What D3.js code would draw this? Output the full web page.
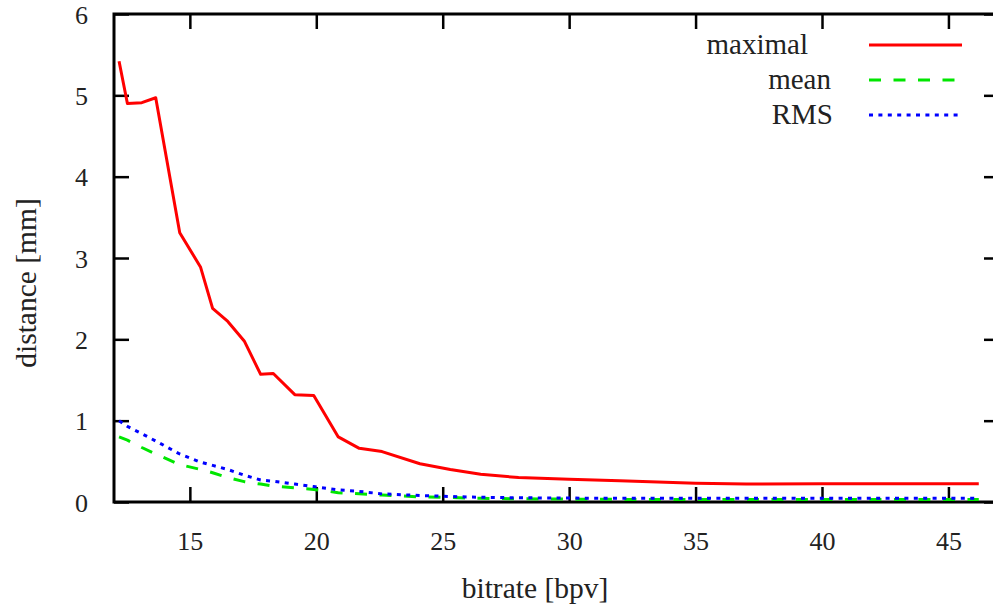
<!DOCTYPE html>
<html>
<head>
<meta charset="utf-8">
<script src="https://cdn.jsdelivr.net/npm/d3@7"></script>
<style>
  html, body { margin: 0; padding: 0; background: #fff; }
  svg { display: block; }
  text { font-family: "Liberation Serif", "DejaVu Serif", serif; fill: #222; }
</style>
</head>
<body>
<svg id="chart" width="993" height="608"></svg>
<script>
const bitrate = [12.2, 12.53, 13.1, 13.65, 14.6, 15.42, 15.9, 16.5, 17.15, 17.8, 18.3, 19.15, 19.9, 20.87, 21.7, 22.6, 24.1, 25.3, 26.5, 28, 30, 32, 35, 37, 40, 43, 46.2];
const maximal = [5.42, 4.90, 4.91, 4.97, 3.31, 2.89, 2.38, 2.22, 1.98, 1.57, 1.58, 1.32, 1.31, 0.80, 0.66, 0.62, 0.47, 0.40, 0.34, 0.30, 0.28, 0.26, 0.23, 0.22, 0.225, 0.225, 0.225];
const mean    = [0.80, 0.76, 0.67, 0.59, 0.46, 0.40, 0.36, 0.30, 0.25, 0.22, 0.195, 0.175, 0.155, 0.115, 0.10, 0.085, 0.063, 0.055, 0.045, 0.040, 0.035, 0.032, 0.030, 0.030, 0.030, 0.030, 0.030];
const rms     = [1.00, 0.93, 0.84, 0.75, 0.59, 0.49, 0.45, 0.40, 0.33, 0.27, 0.255, 0.22, 0.19, 0.15, 0.13, 0.10, 0.08, 0.068, 0.058, 0.052, 0.048, 0.046, 0.045, 0.045, 0.045, 0.045, 0.045];
const xTicks = [15, 20, 25, 30, 35, 40, 45];
const yTicks = [0, 1, 2, 3, 4, 5, 6];
const seriesNames = ["maximal", "mean", "RMS"];
const seriesColors = ["#ff0000", "#00e600", "#0000ff"];
const seriesDash = [null, "12,12.5", "4,5.4"];
const xLabel = "bitrate [bpv]";
const yLabel = "distance [mm]";

const svg = d3.select("#chart");
const L = 114, R = 999, T = 14, B = 502;
const x = d3.scaleLinear().domain([12, 47]).range([L, R]);
const y = d3.scaleLinear().domain([0, 6]).range([B, T]);

// ticks
const tickLen = 15;
const styleAxis = g => {
  g.select(".domain").remove();
  g.selectAll(".tick line").attr("stroke", "#000").attr("stroke-width", 2.5);
};
svg.append("g").attr("transform", `translate(0,${B})`)
  .call(d3.axisBottom(x).tickValues(xTicks).tickSize(-tickLen).tickPadding(30).tickFormat(d3.format("d")))
  .call(styleAxis)
  .call(g => g.selectAll("text").attr("font-size", 26).attr("fill", "#222").attr("font-family", "Liberation Serif, serif"));
svg.append("g").attr("transform", `translate(0,${T})`)
  .call(d3.axisTop(x).tickValues(xTicks).tickSize(-tickLen).tickFormat(""))
  .call(styleAxis);
svg.append("g").attr("transform", `translate(${L},0)`)
  .call(d3.axisLeft(y).tickValues(yTicks).tickSize(-tickLen).tickPadding(26).tickFormat(d3.format("d")))
  .call(styleAxis)
  .call(g => g.selectAll("text").attr("font-size", 26).attr("fill", "#222").attr("font-family", "Liberation Serif, serif").attr("dy", "0.35em"));
svg.append("g").attr("transform", `translate(${R},0)`)
  .call(d3.axisRight(y).tickValues(yTicks).tickSize(-tickLen).tickFormat(""))
  .call(styleAxis);

// frame
svg.append("rect").attr("x", L).attr("y", T).attr("width", R - L).attr("height", B - T)
  .attr("fill", "none").attr("stroke", "#000").attr("stroke-width", 3);

// lines
const seriesData = [maximal, mean, rms];
const line = d3.line().x((d, i) => x(bitrate[i])).y(d => y(d));
seriesData.forEach((vals, k) => {
  svg.append("path").datum(vals)
    .attr("d", line)
    .attr("fill", "none")
    .attr("stroke", seriesColors[k])
    .attr("stroke-width", 3)
    .attr("stroke-linejoin", "round")
    .attr("stroke-dasharray", seriesDash[k]);
});

// legend
const legY = [45, 80, 115];
const legTextX = [808, 831, 833];
const legLineEnd = [962, 955, 958];
seriesNames.forEach((name, k) => {
  svg.append("text").attr("x", legTextX[k]).attr("y", legY[k] + 9)
    .attr("text-anchor", "end").attr("font-size", 29).text(name);
  svg.append("line").attr("x1", 869).attr("x2", legLineEnd[k])
    .attr("y1", legY[k]).attr("y2", legY[k])
    .attr("stroke", seriesColors[k]).attr("stroke-width", 3)
    .attr("stroke-dasharray", seriesDash[k]);
});

// axis titles
svg.append("text").attr("x", 535).attr("y", 598).attr("text-anchor", "middle")
  .attr("font-size", 29.5).text(xLabel);
svg.append("text").attr("transform", "translate(36,283) rotate(-90)")
  .attr("text-anchor", "middle").attr("font-size", 29.5).text(yLabel);
</script>
</body>
</html>
